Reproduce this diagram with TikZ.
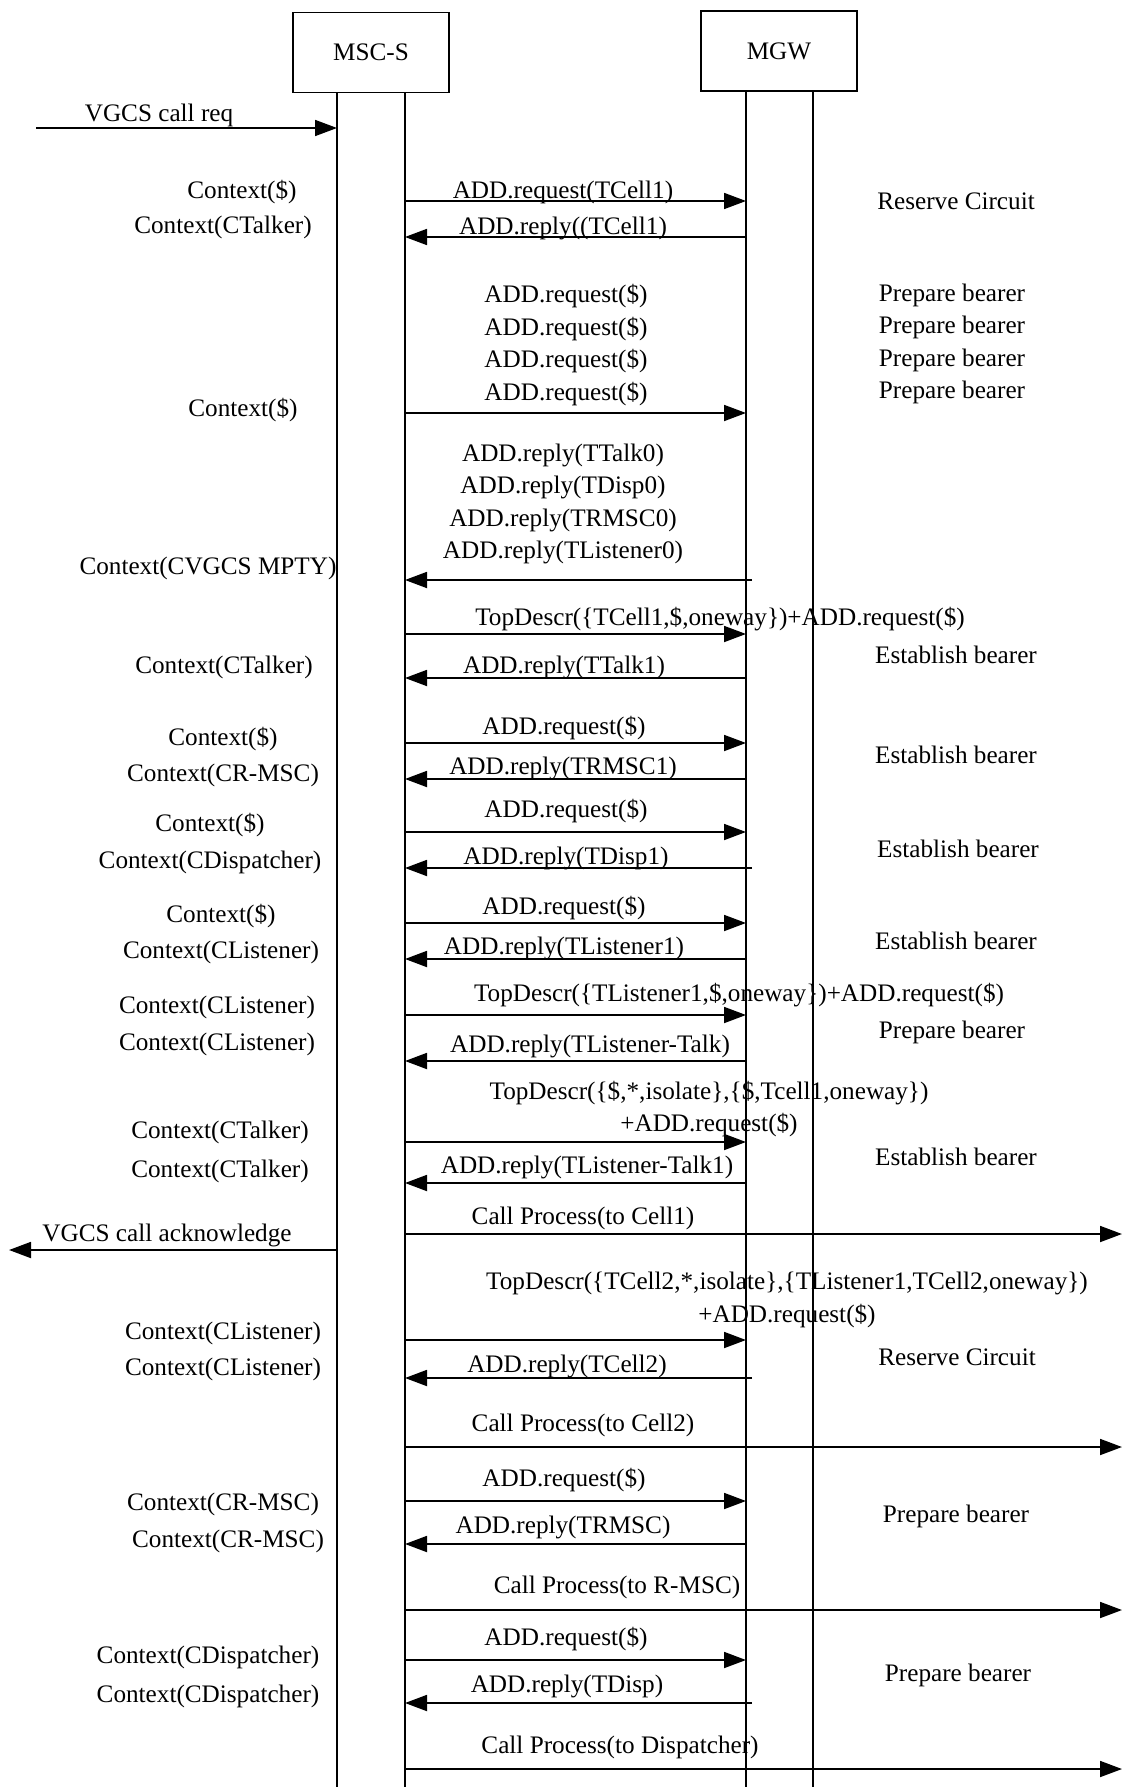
\documentclass[tikz,border=0pt]{standalone}
\usepackage{fontspec}
\setmainfont{Liberation Serif}
\usetikzlibrary{arrows.meta}

\begin{document}
\begin{tikzpicture}[
  x=0.5pt, y=-0.5pt,
  font=\fontsize{12.6pt}{16.2pt}\selectfont,
  box/.style={draw, line width=0.7pt, minimum width=78pt, minimum height=40pt},
  life/.style={line width=0.6pt},
  arr/.style={-{Triangle[length=11pt, width=8pt]}, line width=0.9pt},
  lbl/.style={inner sep=0pt, align=center}
]
\useasboundingbox (0,0) rectangle (1123,1787);

% entities
\node[box] (msc) at (371,52.5) {MSC-S};
\node[box] (mgw) at (779,51)   {MGW};

% lifelines
\coordinate (msA) at (337,93);   \coordinate (msAend) at (337,1787);
\coordinate (msB) at (405,93);   \coordinate (msBend) at (405,1787);
\coordinate (mgA) at (746,91);   \coordinate (mgAend) at (746,1787);
\coordinate (mgB) at (813,91);   \coordinate (mgBend) at (813,1787);
\coordinate (mgX) at (752,0);
\coordinate (envL) at (9,0);
\coordinate (envS) at (36,0);
\coordinate (envR) at (1122,0);

\draw[life] (msA) -- (msAend);
\draw[life] (msB) -- (msBend);
\draw[life] (mgA) -- (mgAend);
\draw[life] (mgB) -- (mgBend);

% contexts on the MSC-S side
\node[lbl] (c1)  at (242,192)  {Context(\$)};
\node[lbl] (c2)  at (223,227)  {Context(CTalker)};
\node[lbl] (c3)  at (243,410)  {Context(\$)};
\node[lbl] (c4)  at (208,568)  {Context(CVGCS MPTY)};
\node[lbl] (c5)  at (224,667)  {Context(CTalker)};
\node[lbl] (c6)  at (223,739)  {Context(\$)};
\node[lbl] (c7)  at (223,775)  {Context(CR-MSC)};
\node[lbl] (c8)  at (210,825)  {Context(\$)};
\node[lbl] (c9)  at (210,862)  {Context(CDispatcher)};
\node[lbl] (c10) at (221,916)  {Context(\$)};
\node[lbl] (c11) at (221,952)  {Context(CListener)};
\node[lbl] (c12) at (217,1007) {Context(CListener)};
\node[lbl] (c13) at (217,1044) {Context(CListener)};
\node[lbl] (c14) at (220,1132) {Context(CTalker)};
\node[lbl] (c15) at (220,1171) {Context(CTalker)};
\node[lbl] (c16) at (223,1333) {Context(CListener)};
\node[lbl] (c17) at (223,1369) {Context(CListener)};
\node[lbl] (c18) at (223,1504) {Context(CR-MSC)};
\node[lbl] (c19) at (228,1541) {Context(CR-MSC)};
\node[lbl] (c20) at (208,1657) {Context(CDispatcher)};
\node[lbl] (c21) at (208,1696) {Context(CDispatcher)};

% actions on the MGW side
\node[lbl] (a1)  at (956,201)  {Reserve Circuit};
\node[lbl] (a2)  at (952,344)  {Prepare bearer\\Prepare bearer\\Prepare bearer\\Prepare bearer};
\node[lbl] (a3)  at (956,655)  {Establish bearer};
\node[lbl] (a4)  at (956,755)  {Establish bearer};
\node[lbl] (a5)  at (958,849)  {Establish bearer};
\node[lbl] (a6)  at (956,941)  {Establish bearer};
\node[lbl] (a7)  at (952,1032) {Prepare bearer};
\node[lbl] (a8)  at (956,1157) {Establish bearer};
\node[lbl] (a9)  at (957,1357) {Reserve Circuit};
\node[lbl] (a10) at (956,1516) {Prepare bearer};
\node[lbl] (a11) at (958,1675) {Prepare bearer};

% message texts
\node[lbl] (m0)  at (159,115)  {VGCS call req};
\node[lbl] (m1)  at (563,192)  {ADD.request(TCell1)};
\node[lbl] (m2)  at (563,228)  {ADD.reply((TCell1)};
\node[lbl] (m3)  at (566,345)  {ADD.request(\$)\\ADD.request(\$)\\ADD.request(\$)\\ADD.request(\$)};
\node[lbl] (m4)  at (563,504)  {ADD.reply(TTalk0)\\ADD.reply(TDisp0)\\ADD.reply(TRMSC0)\\ADD.reply(TListener0)};
\node[lbl] (m5)  at (720,619)  {TopDescr(\{TCell1,\$,oneway\})+ADD.request(\$)};
\node[lbl] (m6)  at (564,667)  {ADD.reply(TTalk1)};
\node[lbl] (m7)  at (564,728)  {ADD.request(\$)};
\node[lbl] (m8)  at (563,768)  {ADD.reply(TRMSC1)};
\node[lbl] (m9)  at (566,811)  {ADD.request(\$)};
\node[lbl] (m10) at (566,858)  {ADD.reply(TDisp1)};
\node[lbl] (m11) at (564,908)  {ADD.request(\$)};
\node[lbl] (m12) at (564,948)  {ADD.reply(TListener1)};
\node[lbl] (m13) at (739,995)  {TopDescr(\{TListener1,\$,oneway\})+ADD.request(\$)};
\node[lbl] (m14) at (590,1046) {ADD.reply(TListener-Talk)};
\node[lbl] (m15) at (709,1109) {TopDescr(\{\$,*,isolate\},\{\$,Tcell1,oneway\})\\+ADD.request(\$)};
\node[lbl] (m16) at (587,1167) {ADD.reply(TListener-Talk1)};
\node[lbl] (m17) at (583,1218) {Call Process(to Cell1)};
\node[lbl] (m18) at (167,1235) {VGCS call acknowledge};
\node[lbl] (m19) at (787,1300) {TopDescr(\{TCell2,*,isolate\},\{TListener1,TCell2,oneway\})\\+ADD.request(\$)};
\node[lbl] (m20) at (567,1366) {ADD.reply(TCell2)};
\node[lbl] (m21) at (583,1425) {Call Process(to Cell2)};
\node[lbl] (m22) at (564,1480) {ADD.request(\$)};
\node[lbl] (m23) at (563,1527) {ADD.reply(TRMSC)};
\node[lbl] (m24) at (617,1587) {Call Process(to R-MSC)};
\node[lbl] (m25) at (566,1639) {ADD.request(\$)};
\node[lbl] (m26) at (567,1686) {ADD.reply(TDisp)};
\node[lbl] (m27) at (620,1747) {Call Process(to Dispatcher)};

% messages
\draw[arr] (envS |- 0,128)  -- (msA |- 0,128);
\draw[arr] (msB |- 0,201)  -- (mgA |- 0,201);
\draw[arr] (mgA |- 0,237)  -- (msB |- 0,237);
\draw[arr] (msB |- 0,413)  -- (mgA |- 0,413);
\draw[arr] (mgX |- 0,580)  -- (msB |- 0,580);
\draw[arr] (msB |- 0,634)  -- (mgA |- 0,634);
\draw[arr] (mgA |- 0,678)  -- (msB |- 0,678);
\draw[arr] (msB |- 0,743)  -- (mgA |- 0,743);
\draw[arr] (mgA |- 0,779)  -- (msB |- 0,779);
\draw[arr] (msB |- 0,832)  -- (mgA |- 0,832);
\draw[arr] (mgX |- 0,868)  -- (msB |- 0,868);
\draw[arr] (msB |- 0,923)  -- (mgA |- 0,923);
\draw[arr] (mgA |- 0,959)  -- (msB |- 0,959);
\draw[arr] (msB |- 0,1015) -- (mgA |- 0,1015);
\draw[arr] (mgA |- 0,1061) -- (msB |- 0,1061);
\draw[arr] (msB |- 0,1142) -- (mgA |- 0,1142);
\draw[arr] (mgA |- 0,1183) -- (msB |- 0,1183);
\draw[arr] (msB |- 0,1234) -- (envR |- 0,1234);
\draw[arr] (msA |- 0,1250) -- (envL |- 0,1250);
\draw[arr] (msB |- 0,1340) -- (mgA |- 0,1340);
\draw[arr] (mgX |- 0,1378) -- (msB |- 0,1378);
\draw[arr] (msB |- 0,1447) -- (envR |- 0,1447);
\draw[arr] (msB |- 0,1501) -- (mgA |- 0,1501);
\draw[arr] (mgA |- 0,1544) -- (msB |- 0,1544);
\draw[arr] (msB |- 0,1610) -- (envR |- 0,1610);
\draw[arr] (msB |- 0,1660) -- (mgA |- 0,1660);
\draw[arr] (mgX |- 0,1703) -- (msB |- 0,1703);
\draw[arr] (msB |- 0,1769) -- (envR |- 0,1769);
\end{tikzpicture}
\end{document}
